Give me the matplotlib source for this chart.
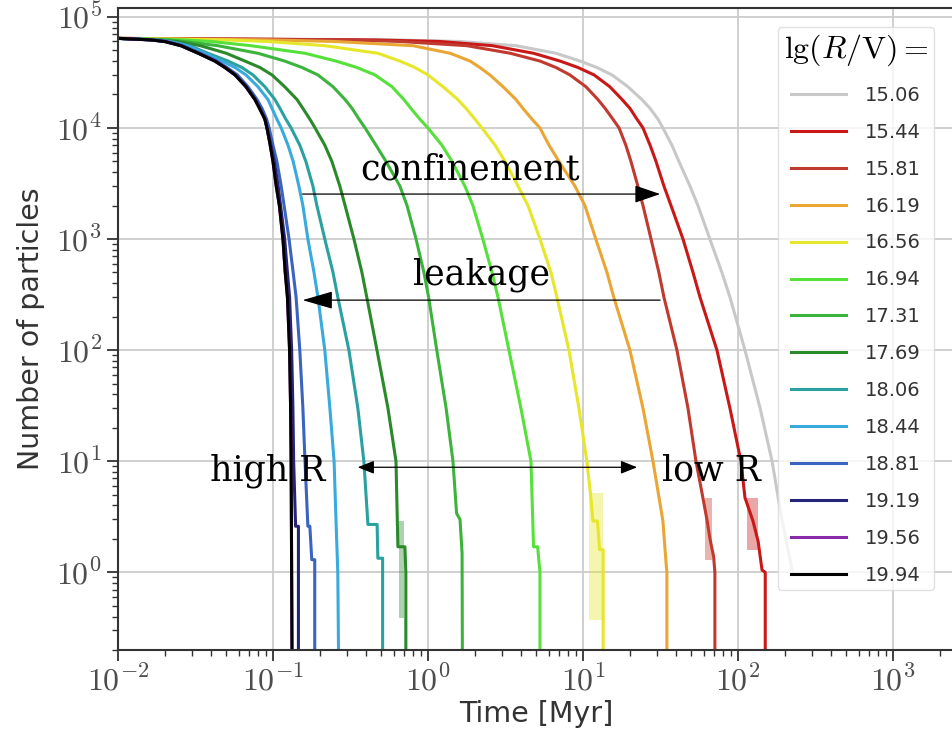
import matplotlib
matplotlib.use("Agg")
import matplotlib.pyplot as plt
from matplotlib.ticker import FuncFormatter
import numpy as np

plt.rcParams['mathtext.fontset'] = 'cm'
plt.rcParams['font.family'] = 'DejaVu Sans'

# legend labels, lg(R/V)
labels = ["15.06", "15.44", "15.81", "16.19", "16.56", "16.94", "17.31",
          "17.69", "18.06", "18.44", "18.81", "19.19", "19.56", "19.94"]
colors = ["#c8c8c8", "#c81818", "#c03a30", "#eaa635", "#e6e62a", "#55e03a",
          "#3cb43c", "#2a8a2a", "#2aa0a0", "#38aadc", "#3a64c0", "#24247a",
          "#8a2aa8", "#000000"]

# particle-number levels shared by the smooth part of every curve
n_upper = [6.4e4, 6.2e4, 6e4, 5.5e4, 4.7e4, 4e4, 3.5e4, 3e4, 2.35e4, 1.8e4, 1.5e4, 1.2e4,
           1e4, 7e3, 5e3, 3e3, 2e3, 1e3, 500, 300, 100, 30, 10]

# time [Myr] at which each curve reaches those levels
t_1506 = [0.01, 0.6, 1.6, 3.7, 6.7, 9.57, 12.3, 15.4, 19.5, 24.0, 27.1, 30.5,
          32.8, 37.5, 41.6, 49.0, 55.2, 65.9, 78.8, 88.8, 111, 139, 166]
t_1544 = [0.01, 0.45, 1.2, 2.6, 4.8, 7.11, 9.29, 11.8, 14.9, 17.9, 20.1, 22.3,
          24.4, 27.1, 29.6, 33.3, 37.0, 44.2, 51.3, 56.9, 73.2, 88.8, 104.5]
t_1581 = [0.01, 0.3, 0.66, 1.78, 3.4, 5.28, 6.70, 8.24, 10.45, 12.5, 13.9, 15.6,
          17.1, 18.9, 20.4, 22.6, 24.4, 27.5, 30.9, 33.3, 40.4, 47.6, 53.6]
t_1619 = [0.01, 0.093, 0.25, 0.8, 1.39, 1.87, 2.16, 2.51, 3.05, 3.70, 4.10, 4.69,
          5.28, 6.04, 7.00, 8.87, 10.3, 12.1, 14.3, 15.8, 20.1, 24.4, 28.3]
t_1656 = [0.01, 0.049, 0.093, 0.216, 0.475, 0.659, 0.824, 1.0, 1.25, 1.56, 1.76, 2.01,
          2.23, 2.71, 3.14, 3.81, 4.42, 5.28, 6.22, 6.79, 8.12, 9.42, 10.6]
t_1694 = [0.01, 0.027, 0.04, 0.072, 0.161, 0.255, 0.348, 0.455, 0.586, 0.700, 0.776, 0.887,
          1.0, 1.23, 1.43, 1.73, 1.95, 2.26, 2.59, 2.83, 3.33, 3.98, 4.62]
t_1731 = [0.01, 0.021, 0.027, 0.044, 0.080, 0.119, 0.154, 0.195, 0.244, 0.292, 0.324, 0.359,
          0.393, 0.462, 0.536, 0.659, 0.733, 0.838, 0.942, 1.01, 1.14, 1.31, 1.45]
t_1769 = [0.01, 0.018, 0.024, 0.034, 0.05, 0.0659, 0.0824, 0.0986, 0.119, 0.143, 0.156, 0.173,
          0.187, 0.216, 0.240, 0.270, 0.292, 0.333, 0.375, 0.403, 0.469, 0.552, 0.622]
t_1806 = [0.01, 0.0175, 0.022, 0.029, 0.0381, 0.0513, 0.0631, 0.0743, 0.0887, 0.103, 0.111, 0.121,
          0.131, 0.149, 0.163, 0.181, 0.192, 0.216, 0.244, 0.262, 0.309, 0.353, 0.386]
t_1844 = [0.01, 0.017, 0.021, 0.028, 0.0364, 0.0469, 0.0569, 0.067, 0.080, 0.0929, 0.0986, 0.106,
          0.113, 0.125, 0.135, 0.147, 0.156, 0.168, 0.184, 0.195, 0.216, 0.233, 0.248]
t_1881 = [0.01, 0.0165, 0.0205, 0.0262, 0.034, 0.0435, 0.0505, 0.059, 0.069, 0.079, 0.085, 0.091,
          0.0945, 0.1, 0.106, 0.113, 0.118, 0.127, 0.135, 0.141, 0.149, 0.156, 0.161]
t_1919 = [0.01, 0.0163, 0.02, 0.0255, 0.033, 0.0422, 0.049, 0.057, 0.067, 0.0766, 0.082, 0.0887,
          0.0915, 0.097, 0.102, 0.108, 0.112, 0.119, 0.124, 0.128, 0.132, 0.1345, 0.136]
t_1956 = [0.01, 0.0163, 0.02, 0.0255, 0.033, 0.0422, 0.049, 0.057, 0.067, 0.0766, 0.082, 0.0887,
          0.0915, 0.096, 0.1, 0.105, 0.11, 0.116, 0.12, 0.124, 0.128, 0.13, 0.131]
t_1994 = [0.01, 0.0163, 0.02, 0.0255, 0.033, 0.0422, 0.049, 0.057, 0.067, 0.0766, 0.082, 0.0887,
          0.0915, 0.096, 0.1, 0.105, 0.11, 0.116, 0.12, 0.124, 0.128, 0.13, 0.131]

# last few particles (step-like tails); the 15.06 run ends behind the legend
tt_1506 = [192, 225]
nt_1506 = [3, 1]
tt_1544 = [111, 125, 135, 143, 150, 150]
nt_1544 = [4.7, 2.9, 1.9, 1.05, 1.0, 0.1]
tt_1581 = [59.4, 63.3, 66, 69.6, 71, 71]
nt_1581 = [4.7, 2.9, 2, 1.4, 1, 0.1]
tt_1619 = [32.8, 34.4, 34.8, 34.8]
nt_1619 = [2.9, 1.2, 1, 0.1]
tt_1656 = [11.2, 11.6, 12.4, 12.8, 13.5, 13.5]
nt_1656 = [5, 2.9, 2.9, 1.6, 1.6, 0.1]
tt_1694 = [4.8, 5.1, 5.28, 5.28]
nt_1694 = [1.7, 1.7, 1, 0.1]
tt_1731 = [1.53, 1.61, 1.66, 1.67]
nt_1731 = [3.4, 3.0, 1.5, 0.1]
tt_1769 = [0.64, 0.71, 0.72, 0.72]
nt_1769 = [1.7, 1.7, 1, 0.1]
tt_1806 = [0.41, 0.47, 0.475, 0.51, 0.51]
nt_1806 = [2.7, 2.7, 1.34, 1.34, 0.1]
tt_1844 = [0.255, 0.262, 0.266]
nt_1844 = [3, 1, 0.1]
tt_1881 = [0.168, 0.173, 0.178, 0.186, 0.186]
nt_1881 = [2.6, 2.6, 1.3, 1.3, 0.1]
tt_1919 = [0.140, 0.146, 0.146]
nt_1919 = [2.6, 2.6, 0.1]
tt_1956 = [0.132, 0.133]
nt_1956 = [1, 0.1]
tt_1994 = [0.132, 0.133]
nt_1994 = [1, 0.1]

# faint wide spread around the last particles (curve index, t range, N range)
band_curve = [7, 4, 2, 1]
band_t0 = [0.655, 11.0, 61, 114]
band_t1 = [0.70, 13.4, 68, 135]
band_n0 = [0.39, 0.37, 1.3, 1.6]
band_n1 = [2.9, 5.2, 4.7, 4.7]

x_ticks = [1e-2, 1e-1, 1e0, 1e1, 1e2, 1e3]
y_ticks = [1e0, 1e1, 1e2, 1e3, 1e4, 1e5]

t_all = [t_1506, t_1544, t_1581, t_1619, t_1656, t_1694, t_1731,
         t_1769, t_1806, t_1844, t_1881, t_1919, t_1956, t_1994]
tt_all = [tt_1506, tt_1544, tt_1581, tt_1619, tt_1656, tt_1694, tt_1731,
          tt_1769, tt_1806, tt_1844, tt_1881, tt_1919, tt_1956, tt_1994]
nt_all = [nt_1506, nt_1544, nt_1581, nt_1619, nt_1656, nt_1694, nt_1731,
          nt_1769, nt_1806, nt_1844, nt_1881, nt_1919, nt_1956, nt_1994]

fig = plt.figure(figsize=(9.52, 7.44), dpi=100)
ax = fig.add_axes([0.1239, 0.1263, 0.8792, 0.8629])

for j in range(len(band_curve)):
    ax.fill_betweenx([band_n0[j], band_n1[j]], band_t0[j], band_t1[j],
                     color=colors[band_curve[j]], alpha=0.38, lw=0)

for i in range(len(labels)):
    t = t_all[i] + tt_all[i]
    n = n_upper + nt_all[i]
    ax.plot(t, n, color=colors[i], lw=2.2, label=labels[i])

ax.set_xscale('log')
ax.set_yscale('log')
ax.set_xlim(1e-2, 10**3.4)
ax.set_ylim(0.2, 1.2e5)
ax.set_xticks(x_ticks)
ax.set_yticks(y_ticks)
pow_fmt = FuncFormatter(lambda v, p: r'$10^{%d}$' % int(round(np.log10(v))))
ax.xaxis.set_major_formatter(pow_fmt)
ax.yaxis.set_major_formatter(pow_fmt)
ax.grid(True, which='major', color='#cccccc', lw=1.3)
ax.set_axisbelow(True)
for s in ax.spines.values():
    s.set_color('0.2')
    s.set_linewidth(1.5)
ax.tick_params(which='major', length=8, width=1.3, labelsize=23, colors='0.2', labelcolor='0.3')
ax.tick_params(which='minor', length=4.5, width=1.0, colors='0.2')
ax.set_xlabel('Time [Myr]', fontsize=20.5, color='0.2', labelpad=2)
ax.set_ylabel('Number of particles', fontsize=20.5, color='0.2', labelpad=8)

# annotations
serif = dict(family='DejaVu Serif', fontsize=25, color='black')
ax.annotate('', xy=(32.8, 2540), xytext=(0.149, 2540),
            arrowprops=dict(arrowstyle='-|>,head_length=1.6,head_width=0.55', color='black', lw=0.9))
ax.text(1.87, 3400, 'confinement', ha='center', va='baseline', **serif)
ax.annotate('', xy=(0.149, 282), xytext=(32.8, 282),
            arrowprops=dict(arrowstyle='-|>,head_length=1.9,head_width=0.55', color='black', lw=0.9))
ax.text(2.2, 386, 'leakage', ha='center', va='baseline', **serif)
ax.annotate('', xy=(23.3, 8.83), xytext=(0.338, 8.83),
            arrowprops=dict(arrowstyle='<|-|>,head_length=1.0,head_width=0.4', color='black', lw=0.9))
ax.text(0.0922, 6.75, 'high R', ha='center', va='baseline', **serif)
ax.text(67, 6.75, 'low R', ha='center', va='baseline', **serif)

leg = ax.legend(loc='upper right', bbox_to_anchor=(944 / 952, 1 - 17 / 744),
                bbox_transform=fig.transFigure, fontsize=14,
                title=r'$\mathrm{lg}(R/\mathrm{V}) =$', title_fontsize=23,
                handlelength=2.8, handletextpad=1.0, labelspacing=0.92,
                borderpad=0.3, framealpha=0.8, edgecolor='0.85')
for txt in leg.get_texts():
    txt.set_color('0.2')

fig.savefig('out.png', dpi=100)
